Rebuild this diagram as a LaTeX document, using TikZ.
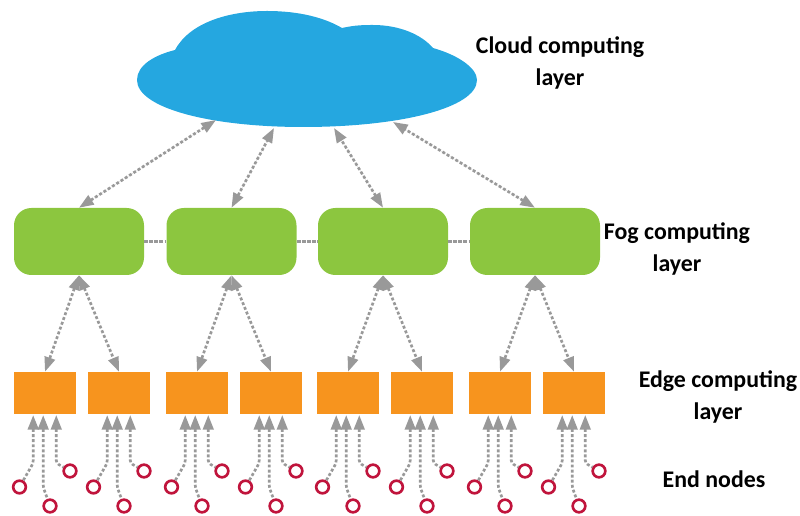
\documentclass[tikz,border=0pt]{standalone}
\usepackage{fontspec}
\setmainfont{Carlito}
\usetikzlibrary{arrows.meta}
\definecolor{cloudblue}{HTML}{25A7E0}
\definecolor{foggreen}{HTML}{8CC63F}
\definecolor{edgeorange}{HTML}{F7941E}
\definecolor{linkgray}{HTML}{999999}
\definecolor{endred}{HTML}{C0143C}
\tikzset{
  >={Triangle[length=11pt,width=8pt]},
  fogbox/.style = {fill=foggreen, rounded corners=13pt, minimum width=97.5pt,
                  minimum height=50.25pt, inner sep=0},
  edgebox/.style = {fill=edgeorange, minimum width=46.5pt,
                  minimum height=31.5pt, inner sep=0},
  endnode/.style = {circle, draw=endred, fill=white, line width=2pt,
                  inner sep=0, minimum size=9.5pt},
  twoway/.style = {draw=linkgray, fill=linkgray, line width=2pt, <->,
                  dash pattern=on 2.2pt off 1.6pt},
  oneway/.style = {draw=linkgray, line width=2pt, <-, rounded corners=2pt,
                  dash pattern=on 2.2pt off 1.6pt},
  foglink/.style = {draw=linkgray, line width=2pt, dash pattern=on 2.8pt off 1pt},
  layer/.style = {font=\bfseries\fontsize{17.9}{24.7}\selectfont, align=center},
}
\begin{document}
\begin{tikzpicture}[x=.75pt,y=-.75pt]
\useasboundingbox (0,0) rectangle (800,516);
% cloud
\fill[cloudblue] (137,80) .. controls (137,65) and (155,55) .. (175,50)
  .. controls (190,22) and (230,11) .. (267,11)
  .. controls (300,11) and (325,18) .. (342,28)
  .. controls (355,25) and (365,25) .. (373,25)
  .. controls (400,25) and (422,35) .. (433,48)
  .. controls (458,55) and (477,68) .. (477,80)
  .. controls (477,108) and (400,127) .. (303,127)
  .. controls (210,127) and (137,108) .. (137,80);
\coordinate (cloud1) at (216,120);
\coordinate (cloud2) at (274,128);
\coordinate (cloud3) at (334,128);
\coordinate (cloud4) at (393,122);
% fog layer
\node[fogbox] (fog1) at (79,241.5) {};
\node[fogbox] (fog2) at (231.5,241.5) {};
\node[fogbox] (fog3) at (383,241.5) {};
\node[fogbox] (fog4) at (535,241.5) {};
\foreach \i/\j in {1/2,2/3,3/4}
  \draw[foglink] (fog\i.east) -- (fog\j.west);
\foreach \i in {1,...,4}
  \draw[twoway] (fog\i.north) -- (cloud\i);
% edge layer and end nodes
\foreach \x [count=\i] in {14,88,166,240,317,391,469,543} {
  \node[edgebox] (edge\i) at (\x+31,393) {};
  \node[endnode] (enda\i) at (\x+5.5,487) {};
  \node[endnode] (endb\i) at (\x+36,506) {};
  \node[endnode] (endc\i) at (\x+56,471) {};
  \draw[oneway] ([xshift=14.6pt,yshift=-.6pt]edge\i.south west) -- ++(0,48) -- (enda\i);
  \draw[oneway] ([xshift=22.1pt,yshift=-.6pt]edge\i.south west) -- ++(0,72) -- (endb\i);
  \draw[oneway] ([xshift=31.9pt,yshift=-.6pt]edge\i.south west) -- ++(0,48) -- (endc\i);
}
\path[twoway] (fog1.south) edge (edge1.north) edge (edge2.north)
              (fog2.south) edge (edge3.north) edge (edge4.north)
              (fog3.south) edge (edge5.north) edge (edge6.north)
              (fog4.south) edge (edge7.north) edge (edge8.north);
% labels
\node[layer] (cloudlabel) at (560,63) {Cloud computing\\layer};
\node[layer] (foglabel) at (677,249) {Fog computing\\layer};
\node[layer] (edgelabel) at (718,397) {Edge computing\\layer};
\node[layer] (endlabel) at (714,479) {End nodes};
\end{tikzpicture}
\end{document}
